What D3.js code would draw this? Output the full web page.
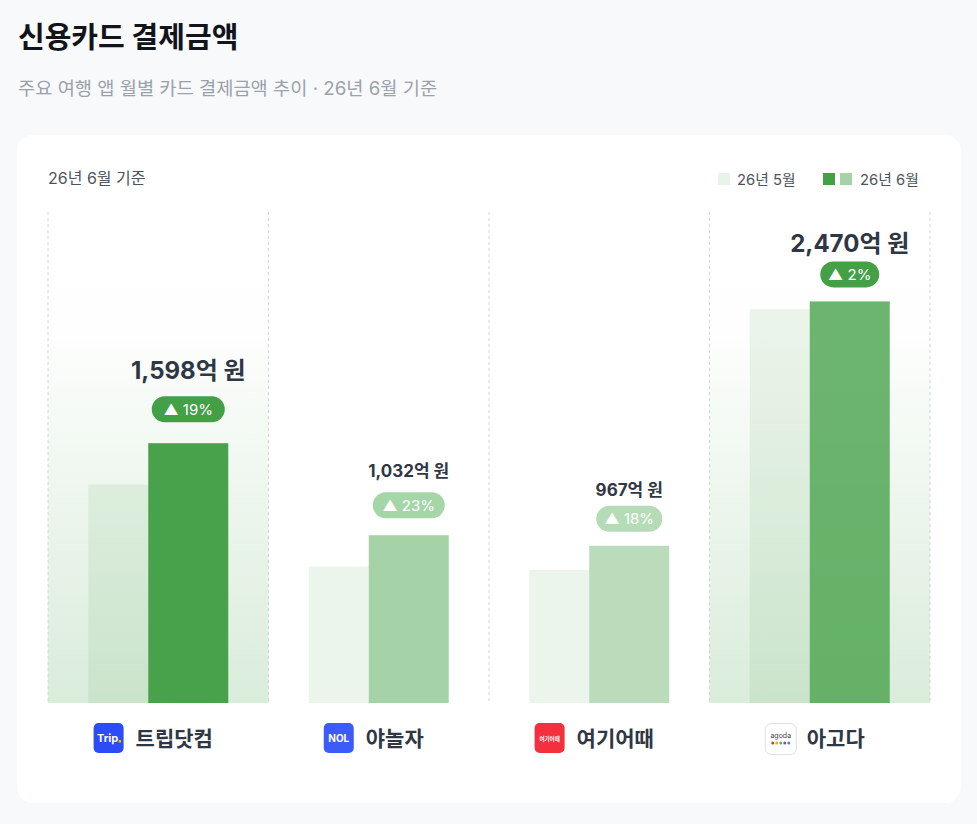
<!DOCTYPE html>
<html>
<head>
<meta charset="utf-8">
<script src="https://cdn.jsdelivr.net/npm/d3@7"></script>
<style>
  html, body { margin: 0; padding: 0; background: #f8f9fb; }
  body { width: 977px; height: 824px; overflow: hidden; }
</style>
</head>
<body>
<div id="chart"></div>
<script>
(function() {
	"use strict";

	var apps = ['트립닷컴', '야놀자', '여기어때', '아고다'];
	var may = [1343, 839, 819, 2422];
	var june = [1598, 1032, 967, 2470];
	var growth = ['19%', '23%', '18%', '2%'];
	var highlighted = [true, false, false, true];
	var seriesNames = ['26년 5월', '26년 6월'];

	var W = 977, H = 824;
	var FONT = 'Inter, "Noto Sans CJK KR", sans-serif';
	var green = '#43a047';
	var juneOpacity = [0.98, 0.48, 0.37, 0.78];
	var pillFill = ['#43a047', '#a5d6a7', '#b6dcb7', '#43a047'];
	var pillWidth = [73, 72, 66, 59];
	var pillGap = [21, 17, 14, 14];
	var labelGap = [17, 15, 10, 9];

	var svg = d3.select('#chart').append('svg')
		.attr('width', W)
		.attr('height', H)
		.style('font-family', FONT);

	var defs = svg.append('defs');
	var bg = defs.append('linearGradient')
		.attr('id', 'hl')
		.attr('x1', 0).attr('y1', 0).attr('x2', 0).attr('y2', 1);
	bg.append('stop').attr('offset', '0%').attr('stop-color', green).attr('stop-opacity', 0);
	bg.append('stop').attr('offset', '25%').attr('stop-color', green).attr('stop-opacity', 0.012);
	bg.append('stop').attr('offset', '100%').attr('stop-color', green).attr('stop-opacity', 0.2);

	svg.append('rect').attr('width', W).attr('height', H).attr('fill', '#f8f9fb');

	svg.append('text')
		.attr('x', 18).attr('y', 48)
		.attr('font-size', 29).attr('font-weight', 700)
		.attr('fill', '#111418')
		.text('신용카드 결제금액');

	svg.append('text')
		.attr('x', 18).attr('y', 95)
		.attr('font-size', 18.7)
		.attr('fill', '#9ba1aa')
		.text('주요 여행 앱 월별 카드 결제금액 추이 · 26년 6월 기준');

	svg.append('rect')
		.attr('x', 17).attr('y', 135)
		.attr('width', 944).attr('height', 668)
		.attr('rx', 16)
		.attr('fill', '#ffffff');

	svg.append('text')
		.attr('x', 48).attr('y', 184)
		.attr('font-size', 16)
		.attr('fill', '#4b5360')
		.text('26년 6월 기준');

	// legend
	var legend = svg.append('g').attr('font-size', 14.8).attr('fill', '#4b5360');
	legend.append('rect').attr('x', 718).attr('y', 173).attr('width', 12).attr('height', 12)
		.attr('fill', green).attr('fill-opacity', 0.12);
	legend.append('text').attr('x', 737).attr('y', 185).text(seriesNames[0]);
	legend.append('rect').attr('x', 823).attr('y', 173).attr('width', 12).attr('height', 12).attr('fill', green);
	legend.append('rect').attr('x', 840).attr('y', 173).attr('width', 12).attr('height', 12)
		.attr('fill', green).attr('fill-opacity', 0.48);
	legend.append('text').attr('x', 860).attr('y', 185).text(seriesNames[1]);

	var top = 212, base = 703;
	var x = d3.scaleBand().domain(apps).range([48, 930]).padding(0);
	var y = d3.scaleLinear().domain([0, 3020]).range([base, top]);
	var bw = x.bandwidth();

	var cols = svg.selectAll('g.col')
		.data(apps)
		.enter()
		.append('g')
		.classed('col', true)
		.attr('transform', function (d) { return 'translate(' + x(d) + ',0)'; });

	cols.filter(function (d, i) { return highlighted[i]; })
		.append('rect')
		.attr('x', 0).attr('y', top)
		.attr('width', bw).attr('height', base - top)
		.attr('fill', 'url(#hl)');

	// dashed dividers
	svg.selectAll('line.div')
		.data(apps.concat(['end']))
		.enter()
		.append('line')
		.attr('x1', function (d, i) { return i < apps.length ? x(d) : x.range()[1]; })
		.attr('x2', function (d, i) { return i < apps.length ? x(d) : x.range()[1]; })
		.attr('y1', top).attr('y2', base)
		.attr('stroke', '#d2d4d8')
		.attr('stroke-width', 1)
		.attr('stroke-dasharray', '3,3');

	var c = bw / 2;

	cols.append('rect')
		.classed('may', true)
		.attr('x', c - 70)
		.attr('width', 60)
		.attr('y', function (d, i) { return y(may[i]); })
		.attr('height', function (d, i) { return base - y(may[i]); })
		.attr('fill', green)
		.attr('fill-opacity', 0.1);

	cols.append('rect')
		.classed('june', true)
		.attr('x', c - 10)
		.attr('width', 80)
		.attr('y', function (d, i) { return y(june[i]); })
		.attr('height', function (d, i) { return base - y(june[i]); })
		.attr('fill', green)
		.attr('fill-opacity', function (d, i) { return juneOpacity[i]; });

	// value labels + pills
	cols.each(function (d, i) {
		var g = d3.select(this);
		var big = highlighted[i];
		var cx = c + 30;
		var pillH = 26;
		var pillTop = y(june[i]) - pillGap[i] - pillH;
		var pw = pillWidth[i];

		g.append('rect')
			.attr('x', cx - pw / 2).attr('y', pillTop)
			.attr('width', pw).attr('height', pillH)
			.attr('rx', 13)
			.attr('fill', pillFill[i]);

		g.append('text')
			.attr('x', cx).attr('y', pillTop + 18.5)
			.attr('text-anchor', 'middle')
			.attr('font-size', 15)
			.attr('fill', '#ffffff')
			.text('▲ ' + growth[i]);

		g.append('text')
			.attr('x', cx).attr('y', pillTop - labelGap[i])
			.attr('text-anchor', 'middle')
			.attr('font-size', big ? 24 : 17)
			.attr('font-weight', 700)
			.attr('fill', '#2f3744')
			.text(d3.format(',')(june[i]) + '억 원');
	});

	// category labels with logos
	cols.each(function (d, i) {
		var g = d3.select(this);
		var lab = g.append('g');
		var icon = lab.append('g');
		drawIcon(icon, i);
		var t = lab.append('text')
			.attr('x', 42).attr('y', 746)
			.attr('font-size', 21)
			.attr('font-weight', 700)
			.attr('fill', '#2f3744')
			.text(d);
		var total = 42 + t.node().getComputedTextLength();
		lab.attr('transform', 'translate(' + (c - 5 - total / 2) + ',0)');
	});

	function drawIcon(g, i) {
		var yy = 723;
		if (i === 0) {
			g.append('rect').attr('x', 0).attr('y', yy).attr('width', 30).attr('height', 30).attr('rx', 5).attr('fill', '#2b4cf6');
			g.append('text').attr('x', 14).attr('y', yy + 19).attr('text-anchor', 'middle')
				.attr('font-size', 11).attr('font-weight', 700).attr('fill', '#fff')
				.text('Trip');
			g.append('rect').attr('x', 25).attr('y', yy + 17).attr('width', 2.5).attr('height', 2.5).attr('fill', '#ffb400');
		} else if (i === 1) {
			g.append('rect').attr('x', 0).attr('y', yy).attr('width', 30).attr('height', 30).attr('rx', 5).attr('fill', '#3d5bfb');
			g.append('text').attr('x', 15).attr('y', yy + 19).attr('text-anchor', 'middle')
				.attr('font-size', 10).attr('font-weight', 700).attr('fill', '#fff')
				.text('NOL');
		} else if (i === 2) {
			g.append('rect').attr('x', 0).attr('y', yy).attr('width', 30).attr('height', 30).attr('rx', 5).attr('fill', '#f5303e');
			g.append('text').attr('x', 15).attr('y', yy + 17.5).attr('text-anchor', 'middle')
				.attr('font-size', 5.5).attr('font-weight', 700).attr('fill', '#fff')
				.text('여기어때');
		} else {
			g.append('rect').attr('x', 0.5).attr('y', yy + 0.5).attr('width', 31).attr('height', 31).attr('rx', 6)
				.attr('fill', '#fff').attr('stroke', '#dde0e4');
			g.append('text').attr('x', 16).attr('y', yy + 15).attr('text-anchor', 'middle')
				.attr('font-size', 7).attr('fill', '#444')
				.text('agoda');
			var dots = ['#e5312b', '#f5a623', '#5cb85c', '#a23bbb', '#2f8ee5'];
			g.selectAll('circle').data(dots).enter().append('circle')
				.attr('cx', function (dc, k) { return 8 + k * 4; })
				.attr('cy', yy + 20)
				.attr('r', 1.5)
				.attr('fill', function (dc) { return dc; });
		}
	}
}());
</script>
</body>
</html>
